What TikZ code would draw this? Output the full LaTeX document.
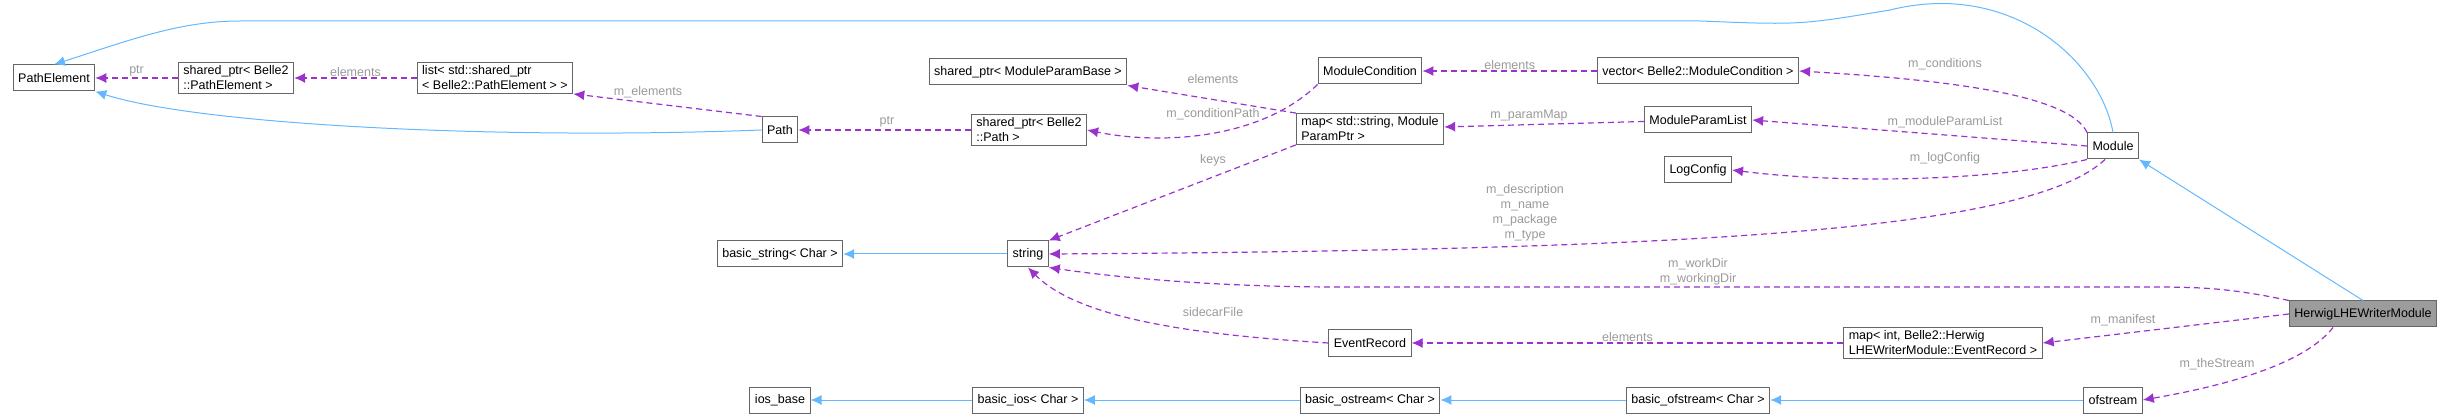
\documentclass[tikz,border=0pt]{standalone}
\usepackage{fontspec}
\setmainfont{Liberation Sans}
\usetikzlibrary{arrows.meta}

\definecolor{inhblue}{HTML}{63B8FF}
\definecolor{usepurple}{HTML}{9A32CD}
\definecolor{lblgray}{HTML}{9A9A9A}
\definecolor{boxgray}{HTML}{666666}

\begin{document}
\begin{tikzpicture}
		[x=1pt, y=-1pt,
		 every node/.style={font=\fontsize{12.5}{15}\selectfont},
		 cls/.style={rectangle, draw=boxgray, fill=white, line width=1pt, inner xsep=5pt, minimum height=26pt, align=left},
		 inh/.style={draw=inhblue, line width=1pt, -{Latex[length=11pt,width=10pt]}},
		 dep/.style={draw=usepurple, line width=1.2pt, dash pattern=on 6pt off 4pt, -{Latex[length=11pt,width=10pt]}},
		 lbl/.style={text=lblgray, inner sep=1pt, align=center}]
		\useasboundingbox (0,0) rectangle (2451,419);

		\node[cls] (pe) at (54,78) {PathElement};
		\node[cls] (spe) at (236,78) {shared\_ptr< Belle2\\::PathElement >};
		\node[cls] (lst) at (495,78) {list< std::shared\_ptr\\< Belle2::PathElement > >};
		\node[cls] (path) at (780,130) {Path};
		\node[cls] (bstr) at (780,254) {basic\_string< Char >};
		\node[cls] (iosb) at (780,400) {ios\_base};
		\node[cls] (spmpb) at (1028,72) {shared\_ptr< ModuleParamBase >};
		\node[cls] (spp) at (1029,130) {shared\_ptr< Belle2\\::Path >};
		\node[cls] (str) at (1028,254) {string};
		\node[cls] (bios) at (1028,400) {basic\_ios< Char >};
		\node[cls] (mc) at (1370,71) {ModuleCondition};
		\node[cls] (mpp) at (1370,129) {map< std::string, Module\\ParamPtr >};
		\node[cls] (er) at (1370,343) {EventRecord};
		\node[cls] (bos) at (1370,400) {basic\_ostream< Char >};
		\node[cls] (vmc) at (1698,71) {vector< Belle2::ModuleCondition >};
		\node[cls] (mpl) at (1698,120) {ModuleParamList};
		\node[cls] (lc) at (1698,170) {LogConfig};
		\node[cls] (bofs) at (1698,400) {basic\_ofstream< Char >};
		\node[cls] (mer) at (1943,343) {map< int, Belle2::Herwig\\LHEWriterModule::EventRecord >};
		\node[cls] (mod) at (2113,146) {Module};
		\node[cls] (ofs) at (2113,400) {ofstream};
		\node[cls, fill=boxgray!65] (hlw) at (2363,314) {HerwigLHEWriterModule};

		\draw[inh] (mod.north) .. controls (2100,60) and (2010,-20) .. (1890,10) .. controls (1800,25) .. (1700,21) -- (240,21) .. controls (180,21) and (130,40) .. (pe.north);
		\draw[inh] (path.west) .. controls (500,140) and (200,125) .. (pe.south east);
		\draw[inh] (hlw.north) -- (mod.south east);
		\draw[inh] (str) -- (bstr);
		\draw[inh] (ofs) -- (bofs);
		\draw[inh] (bofs) -- (bos);
		\draw[inh] (bos) -- (bios);
		\draw[inh] (bios) -- (iosb);

		\draw[dep] (spe) -- (pe) node[lbl, above, midway] {ptr};
		\draw[dep] (lst) -- (spe) node[lbl, above, midway] {elements};
		\draw[dep] (path.north west) -- (lst.south east) node[lbl] at (648,92) {m\_elements};
		\draw[dep] (spp) -- (path) node[lbl] at (887,122) {ptr};
		\draw[dep] (mpp.north west) -- (spmpb.south east) node[lbl] at (1213,79) {elements};
		\draw[dep] (mc.south west) .. controls (1260,140) and (1160,145) .. (spp.east) node[lbl] at (1213,114) {m\_conditionPath};
		\draw[dep] (mpp.south west) -- (str.north east) node[lbl] at (1213,160) {keys};
		\draw[dep] (vmc) -- (mc) node[lbl, above, midway] {elements};
		\draw[dep] (mpl) -- (mpp) node[lbl] at (1529,116) {m\_paramMap};
		\draw[dep] (mod.north west) .. controls (2070,95) and (1950,80) .. (vmc.east) node[lbl] at (1945,64) {m\_conditions};
		\draw[dep] (mod.west) -- (mpl.east) node[lbl] at (1945,122) {m\_moduleParamList};
		\draw[dep] (mod.south west) .. controls (2000,180) and (1850,185) .. (lc.east) node[lbl] at (1945,158) {m\_logConfig};
		\draw[dep] ([xshift=-8pt]mod.south) .. controls (2030,230) and (1700,250) .. (str.east)
			node[lbl, align=center] at (1525,213) {m\_description\\m\_name\\m\_package\\m\_type};
		\draw[dep] (hlw.north west) .. controls (2230,288) and (2200,287) .. (2150,287) -- (1340,287) .. controls (1200,287) and (1100,275) .. (str.south east)
			node[lbl, align=center] at (1698,272) {m\_workDir\\m\_workingDir};
		\draw[dep] (er.west) .. controls (1200,335) and (1080,320) .. (str.south) node[lbl] at (1213,312) {sidecarFile};
		\draw[dep] (mer) -- (er) node[lbl, above, midway] {elements};
		\draw[dep] (hlw.west) -- (mer.east) node[lbl] at (2123,320) {m\_manifest};
		\draw[dep] ([xshift=-30pt]hlw.south) .. controls (2300,370) and (2200,390) .. (ofs.east) node[lbl] at (2217,364) {m\_theStream};
	\end{tikzpicture}
\end{document}
